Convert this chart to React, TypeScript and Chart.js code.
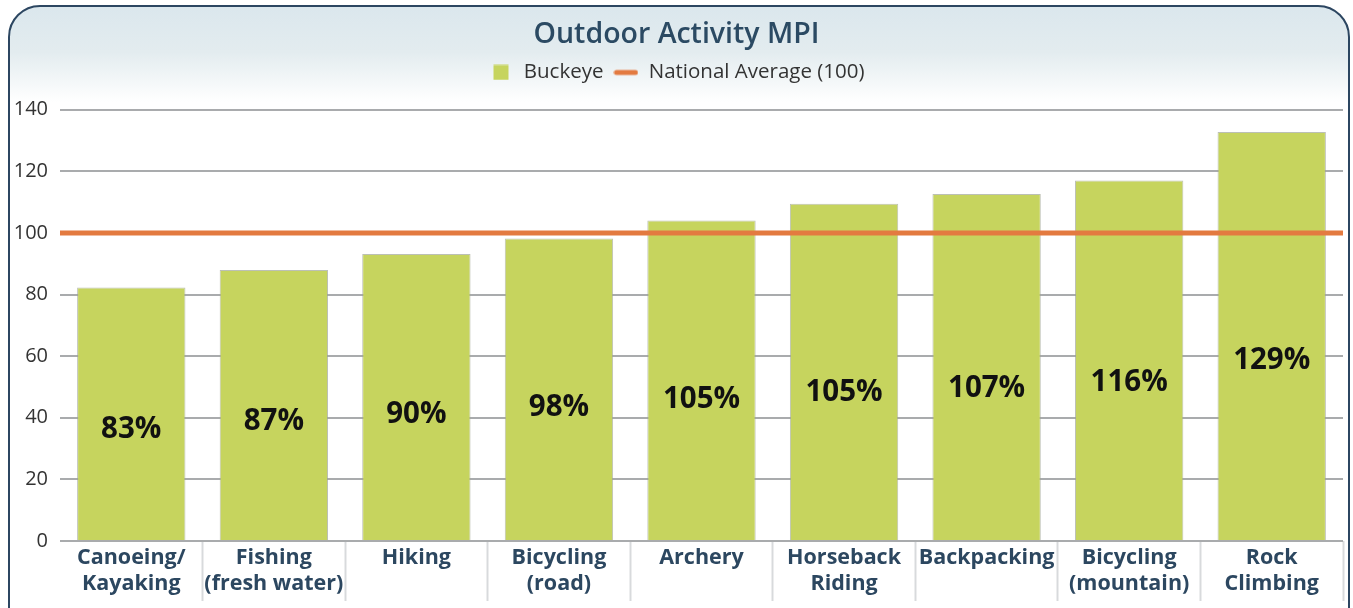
import React, { useEffect, useRef } from "react";
import { Chart, registerables } from "chart.js";

Chart.register(...registerables);

const categories: (string | string[])[] = [
  ["Canoeing/", "Kayaking"],
  ["Fishing", "(fresh water)"],
  "Hiking",
  ["Bicycling", "(road)"],
  "Archery",
  ["Horseback", "Riding"],
  "Backpacking",
  ["Bicycling", "(mountain)"],
  ["Rock", "Climbing"],
];
const buckeyeValues = [82.3, 88, 93.2, 98.2, 104, 109.5, 112.6, 117, 132.8];
const percentLabels = ["83%", "87%", "90%", "98%", "105%", "105%", "107%", "116%", "129%"];
const nationalAverage = 100;
const yTickValues = [0, 20, 40, 60, 80, 100, 120, 140];

const GREEN = "#c6d45e";
const ORANGE = "#e37a40";
const LABEL_FRACTION = 0.44;

function makeSwatch(kind: "box" | "line"): HTMLCanvasElement {
  const c = document.createElement("canvas");
  c.width = 25;
  c.height = 16;
  const g = c.getContext("2d")!;
  if (kind === "box") {
    g.fillStyle = GREEN;
    g.fillRect(5, 0.5, 15, 15);
  } else {
    g.strokeStyle = ORANGE;
    g.lineWidth = 5;
    g.lineCap = "round";
    g.beginPath();
    g.moveTo(3, 8);
    g.lineTo(22, 8);
    g.stroke();
  }
  return c;
}

const valueLabelPlugin = {
  id: "valueLabels",
  afterDatasetsDraw(chart: any) {
    const meta = chart.getDatasetMeta(0);
    const y = chart.scales.y;
    const ctx = chart.ctx;
    ctx.save();
    ctx.font = 'bold 29.5px "Open Sans"';
    ctx.fillStyle = "#111111";
    ctx.textAlign = "center";
    ctx.textBaseline = "middle";
    meta.data.forEach((bar: any, i: number) => {
      ctx.fillText(percentLabels[i], bar.x, y.getPixelForValue(buckeyeValues[i] * LABEL_FRACTION));
    });
    ctx.restore();
  },
};

const legendSpacer = {
  id: "legendSpacer",
  beforeInit(chart: any) {
    const orig = chart.legend.fit;
    chart.legend.fit = function () {
      orig.bind(chart.legend)();
      this.height += 17;
    };
  },
};

export default function App() {
  const ref = useRef<HTMLCanvasElement | null>(null);
  useEffect(() => {
    if (!ref.current) return;
    const boxSwatch = makeSwatch("box");
    const lineSwatch = makeSwatch("line");
    const chart = new Chart(ref.current, {
      type: "bar",
      data: {
        labels: categories as any,
        datasets: [
          {
            type: "bar",
            label: "Buckeye",
            data: buckeyeValues,
            backgroundColor: GREEN,
            borderColor: "rgba(160,165,150,0.7)",
            borderWidth: 1,
            barPercentage: 0.76,
            categoryPercentage: 1,
            grouped: false,
            xAxisID: "x",
            order: 1,
          } as any,
          {
            type: "line",
            label: "National Average (100)",
            data: [
              { x: 0, y: nationalAverage },
              { x: 1, y: nationalAverage },
            ],
            borderColor: ORANGE,
            backgroundColor: ORANGE,
            borderWidth: 5,
            pointRadius: 0,
            xAxisID: "x2",
            order: 0,
          } as any,
        ],
      },
      options: {
        animation: false,
        responsive: true,
        maintainAspectRatio: false,
        layout: { padding: { left: 0, right: 5, top: 0, bottom: 11 } },
        plugins: {
          title: {
            display: true,
            text: "Outdoor Activity MPI",
            color: "#2b4a63",
            font: { family: '"Open Sans"', size: 28.5, weight: 600 as any },
            padding: { top: 11, bottom: 0 },
          },
          legend: {
            display: true,
            position: "top",
            labels: {
              usePointStyle: true,
              pointStyleWidth: 25,
              color: "#333333",
              font: { family: '"Open Sans"', size: 20.5 },
              padding: 10,
              generateLabels: () => [
                {
                  text: "Buckeye",
                  pointStyle: boxSwatch as any,
                  fillStyle: GREEN,
                  strokeStyle: GREEN,
                  lineWidth: 0,
                  hidden: false,
                  datasetIndex: 0,
                  fontColor: "#333333",
                },
                {
                  text: "National Average (100)",
                  pointStyle: lineSwatch as any,
                  fillStyle: ORANGE,
                  strokeStyle: ORANGE,
                  lineWidth: 0,
                  hidden: false,
                  datasetIndex: 1,
                  fontColor: "#333333",
                },
              ],
            },
          },
          tooltip: { enabled: false },
        },
        scales: {
          x: {
            type: "category",
            position: "bottom",
            offset: true,
            border: { display: false },
            grid: {
              offset: true,
              drawOnChartArea: false,
              drawTicks: true,
              tickLength: 60,
              tickWidth: 2,
              tickColor: (ctx: any) =>
                ctx.index === 0 || ctx.index === categories.length ? "rgba(0,0,0,0)" : "#d8dadc",
            },
            ticks: {
              color: "#2c4760",
              font: { family: '"Open Sans"', size: 21.5, weight: "bold" as any, lineHeight: "26px" as any },
              padding: -56,
              maxRotation: 0,
              autoSkip: false,
            },
            afterFit: (axis: any) => {
              axis.height = 56;
            },
          },
          x2: {
            type: "linear",
            min: 0,
            max: 1,
            offset: false,
            grid: { offset: false },
            display: false,
          },
          y: {
            min: 0,
            max: 140,
            border: { display: false },
            afterBuildTicks: (axis: any) => {
              axis.ticks = yTickValues.map((v) => ({ value: v }));
            },
            afterFit: (axis: any) => {
              axis.width = 50;
            },
            grid: {
              color: "#a9abad",
              lineWidth: 2,
              drawTicks: false,
            },
            ticks: {
              color: "#333333",
              font: { family: '"Open Sans"', size: 20 },
              padding: 12,
            },
          },
        },
      },
      plugins: [valueLabelPlugin, legendSpacer],
    });
    return () => chart.destroy();
  }, []);

  return (
    <div
      style={{
        position: "fixed",
        left: 8,
        top: 5,
        width: 1342,
        height: 660,
        boxSizing: "border-box",
        border: "2px solid #2c4661",
        borderRadius: "32px 32px 0 0",
        background: "linear-gradient(to bottom, #dbe7ed 0px, #e3ecef 45px, #ffffff 95px, #ffffff 100%)",
        overflow: "hidden",
      }}
    >
      <div style={{ position: "relative", width: 1338, height: 601 }}>
        <canvas ref={ref} />
      </div>
    </div>
  );
}
